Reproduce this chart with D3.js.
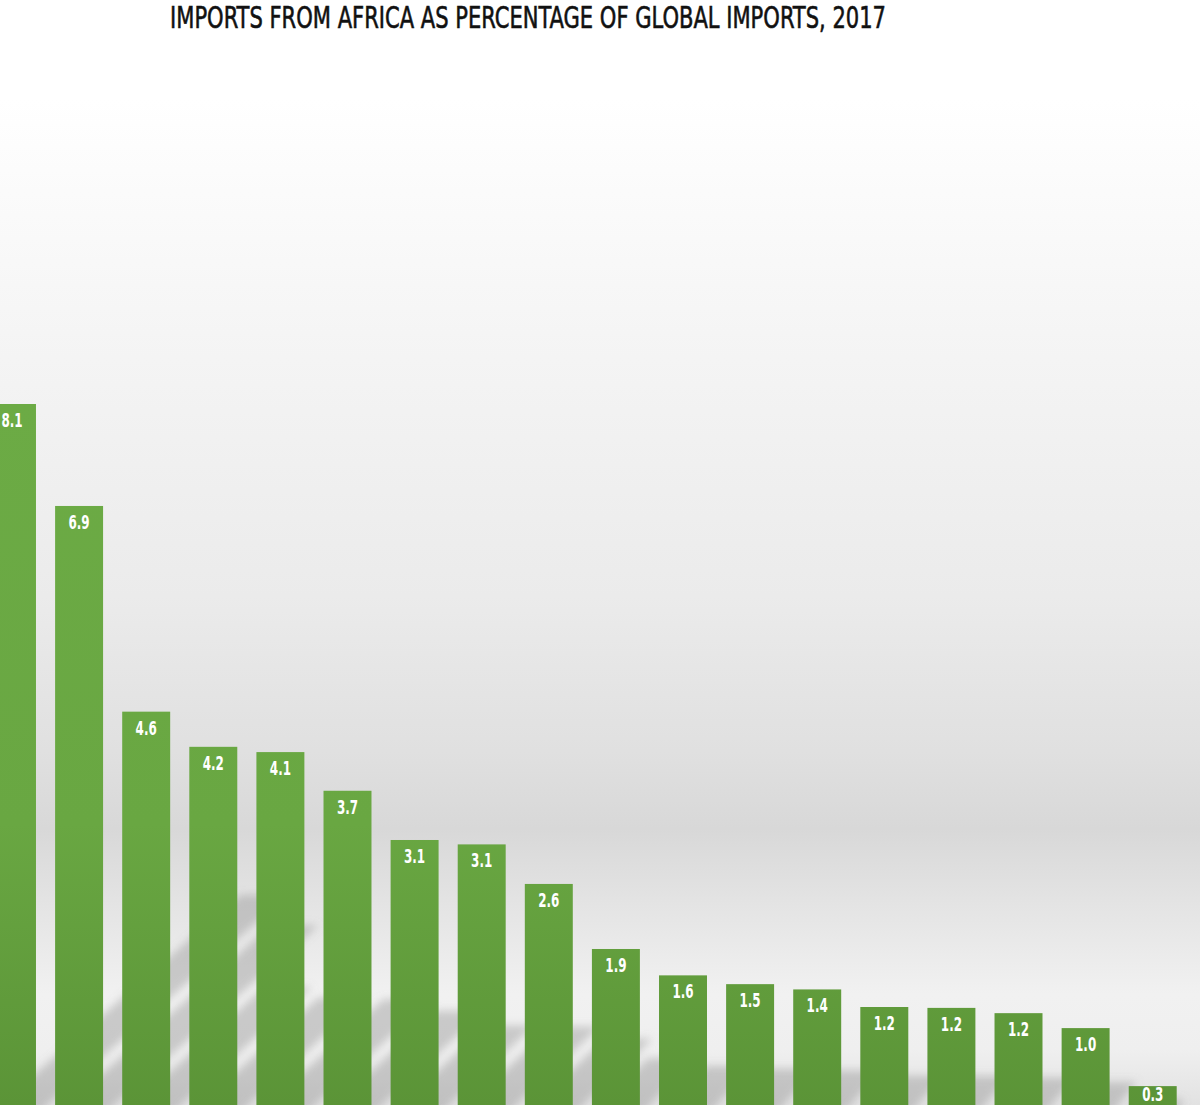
<!DOCTYPE html>
<html>
<head>
<meta charset="utf-8">
<script src="https://cdn.jsdelivr.net/npm/d3@7/dist/d3.min.js"></script>
<style>
  html, body { margin: 0; padding: 0; background: #fff; }
  svg { display: block; }
</style>
</head>
<body>
<svg id="chart"></svg>
<script>
// Bars are unlabeled in the source, so ranks stand in for the categories
const categories = ['1', '2', '3', '4', '5', '6', '7', '8', '9', '10', '11', '12', '13', '14', '15', '16', '17', '18'];
// Share of imports coming from Africa (%)
const values = [8.1, 6.94, 4.6, 4.2, 4.14, 3.7, 3.14, 3.09, 2.64, 1.9, 1.6, 1.5, 1.44, 1.24, 1.23, 1.17, 1.0, 0.34];
const title = 'IMPORTS FROM AFRICA AS PERCENTAGE OF GLOBAL IMPORTS, 2017';

const W = 1200, H = 1105;
const baseY = 1116;          // value 0 sits just below the picture edge
const fmt = d3.format('.1f');
const condensed = '"Liberation Sans Narrow", "DejaVu Sans Condensed", sans-serif';

const svg = d3.select('#chart').attr('width', W).attr('height', H);
const defs = svg.append('defs');

// ── Background ───────────────────────────────────────────────────────────
const bg = defs.append('linearGradient').attr('id', 'bg')
    .attr('x1', 0).attr('y1', 0).attr('x2', 0).attr('y2', 1);
[[0, '#ffffff'], [0.09, '#ffffff'], [0.3, '#f5f5f5'], [0.54, '#ebebeb'],
 [0.68, '#e0e0e0'], [0.75, '#d8d8d8'], [0.82, '#e4e4e4'], [0.9, '#f1f1f1'],
 [0.95, '#efefef'], [1, '#e2e2e2']]
    .forEach(([o, c]) => bg.append('stop').attr('offset', o).attr('stop-color', c));

const barFill = defs.append('linearGradient').attr('id', 'barFill')
    .attr('gradientUnits', 'userSpaceOnUse')
    .attr('x1', 0).attr('y1', 400).attr('x2', 0).attr('y2', H);
[[0, '#6cab45'], [0.6, '#69a742'], [1, '#5b9437']]
    .forEach(([o, c]) => barFill.append('stop').attr('offset', o).attr('stop-color', c));

defs.append('filter').attr('id', 'blur')
    .attr('x', '-20%').attr('y', '-20%').attr('width', '140%').attr('height', '140%')
    .append('feGaussianBlur').attr('stdDeviation', 4);

svg.append('rect').attr('width', W).attr('height', H).attr('fill', 'url(#bg)');

// ── Scales ───────────────────────────────────────────────────────────────
const x = d3.scaleBand()
    .domain(categories)
    .range([-12, 1176.7])
    .paddingInner(0.285)
    .paddingOuter(0);

const y = d3.scaleLinear()
    .domain([0, 8.1])
    .range([baseY, 404]);

const data = categories.map((c, i) => ({ cat: c, value: values[i] }));

// ── Cast shadows (slanted, blurred, behind the bars) ─────────────────────
svg.append('g').attr('class', 'shadows')
    .attr('filter', 'url(#blur)')
    .selectAll('path')
    .data(data)
    .join('path')
    .attr('fill', '#8a8a8a')
    .attr('fill-opacity', 0.38)
    .attr('d', d => {
        const h = H - y(d.value);
        const x0 = x(d.cat), x1 = x0 + x.bandwidth();
        const rise = h * 0.3, run = h * 0.36;
        return `M${x0},${H + 10}L${x1},${H + 10}L${x1 + run},${H - rise}L${x0 + run},${H - rise}Z`;
    });

// ── Bars ─────────────────────────────────────────────────────────────────
svg.append('g').attr('class', 'bars')
    .selectAll('rect')
    .data(data)
    .join('rect')
    .attr('x', d => x(d.cat))
    .attr('y', d => y(d.value))
    .attr('width', x.bandwidth())
    .attr('height', d => baseY - y(d.value))
    .attr('fill', 'url(#barFill)');

// ── Value labels (squeezed horizontally to mimic a condensed face) ──────
svg.append('g').attr('class', 'labels')
    .selectAll('text')
    .data(data)
    .join('text')
    .attr('transform', d => {
        const cx = x(d.cat) + x.bandwidth() / 2;
        const ty = Math.min(y(d.value) + 23, H - 4);
        return `translate(${cx},${ty}) scale(0.7,1)`;
    })
    .attr('text-anchor', 'middle')
    .attr('fill', '#ffffff')
    .style('font-family', condensed)
    .style('font-weight', 'bold')
    .style('font-size', '19px')
    .text(d => fmt(d.value));

// ── Title ────────────────────────────────────────────────────────────────
svg.append('text')
    .attr('x', 170)
    .attr('y', 28)
    .attr('textLength', 716)
    .attr('lengthAdjust', 'spacingAndGlyphs')
    .attr('fill', '#111111')
    .attr('stroke', '#111111')
    .attr('stroke-width', 0.6)
    .style('font-family', condensed)
    .style('font-size', '31px')
    .text(title);
</script>
</body>
</html>
